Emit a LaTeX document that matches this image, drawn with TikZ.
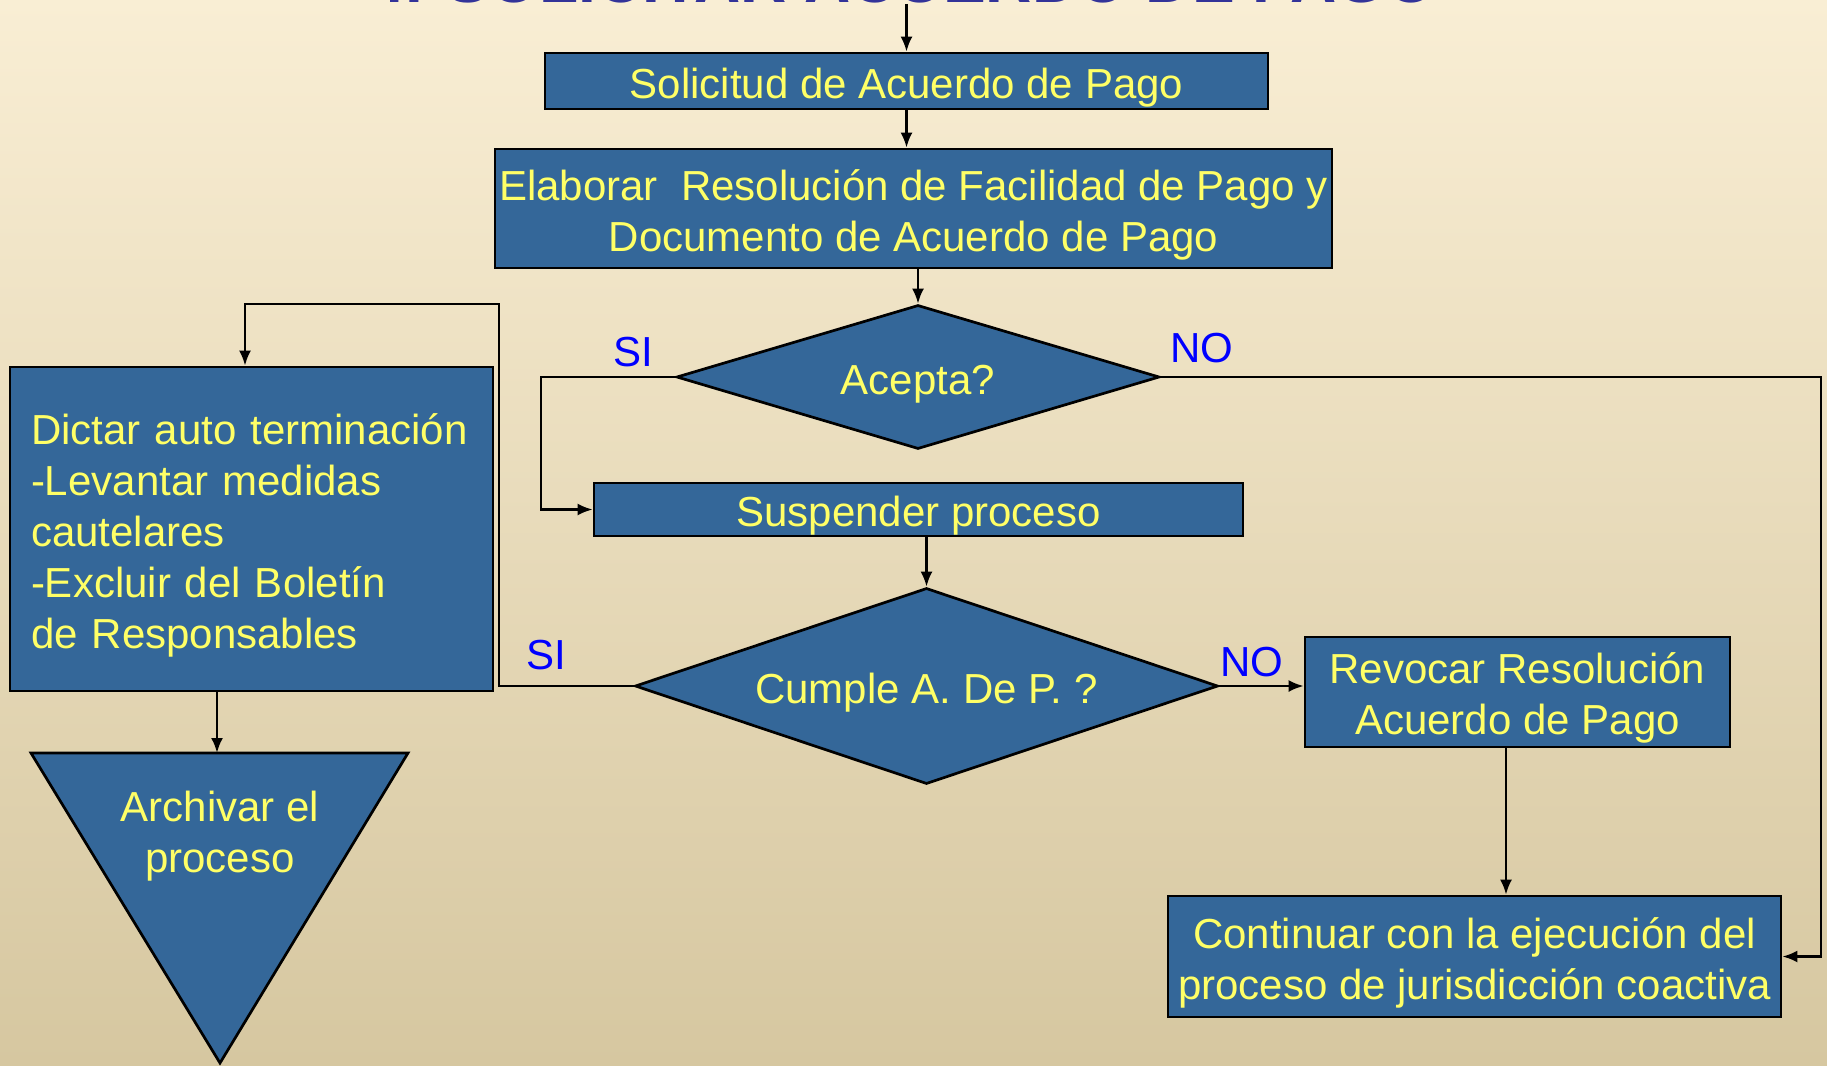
\documentclass[tikz,border=0pt]{standalone}
\usepackage{fontspec}
\setmainfont{Liberation Sans}
\usetikzlibrary{shapes.geometric,arrows.meta}
\definecolor{bgtop}{RGB}{249,238,212}
\definecolor{bgmid}{RGB}{240,232,210}
\definecolor{bgbot}{RGB}{214,199,160}
\definecolor{boxblue}{RGB}{52,103,153}
\definecolor{txtyel}{RGB}{255,255,102}
\definecolor{ttlblue}{RGB}{51,51,153}
\newcommand{\lift}{\rule{0pt}{43pt}}
\tikzset{proc/.style={draw=black, line width=2.7pt, fill=boxblue, text=txtyel, inner sep=0pt, align=center, font=\fontsize{42}{51}\selectfont, execute at begin node={\lift}}}
\tikzset{decis/.style={proc, diamond, aspect=3}}
\tikzset{lbl/.style={text=blue, inner sep=0pt, font=\fontsize{42}{51}\selectfont}}
\tikzset{conn/.style={line width=2.5pt, -{Latex[length=15pt,width=12pt]}}}

\begin{document}
\begin{tikzpicture}[x=1pt,y=-1pt]

\useasboundingbox (0,0) rectangle (1827,1065);
\clip (0,0) rectangle (1827,1065);
\shade[top color=bgtop, middle color=bgmid, bottom color=bgbot] (0,0) rectangle (1827,1065);

\node[anchor=base, text=ttlblue, inner sep=0pt, font=\fontsize{64}{64}\selectfont\bfseries] (ttl) at (903,3) {4. SOLICITAR ACUERDO DE PAGO};

\node[proc, minimum width=723pt, minimum height=56pt] (sol) at (906.5,81) {Solicitud de Acuerdo de Pago};
\node[proc, minimum width=837pt, minimum height=119pt] (ela) at (913.5,208.5) {\lift Elaborar\ \ Resolución de Facilidad de Pago y\\Documento de Acuerdo de Pago};
\node[decis, minimum width=483pt, minimum height=144pt] (acp) at (918,377) {Acepta?};
\node[proc, minimum width=649pt, minimum height=53pt] (sus) at (918.5,509.5) {Suspender proceso};
\node[decis, minimum width=583pt, minimum height=196pt] (cum) at (926.5,686) {Cumple A. De P. ?};
\node[proc, minimum width=425pt, minimum height=110pt] (rev) at (1517.5,692) {\lift Revocar Resolución\\Acuerdo de Pago};
\node[proc, minimum width=613pt, minimum height=121pt] (con) at (1474.5,956.5) {\lift Continuar con la ejecución del\\proceso de jurisdicción coactiva};
\node[proc, minimum height=324pt, text width=441pt, inner xsep=21pt, align=left] (dic) at (251.5,529) {Dictar auto terminación\\-Levantar medidas\\cautelares\\-Excluir del Boletín\\de Responsables};

\coordinate (arcL) at (31,753);
\coordinate (arcR) at (408,753);
\coordinate (arcB) at (220,1063);
\coordinate (arcT) at (217,753);
\draw[line width=2.7pt, fill=boxblue] (arcL) -- (arcR) -- (arcB) -- cycle;
\node[text=txtyel, inner sep=0pt, align=center, font=\fontsize{42}{51}\selectfont] (arc) at (220,836) {Archivar el\\proceso};

\node[lbl] (si1) at (633,352) {SI};
\node[lbl] (no1) at (1202,348) {NO};
\node[lbl] (si2) at (546.5,655.5) {SI};
\node[lbl] (no2) at (1252,662) {NO};

\coordinate (rgt) at (1821,378);
\coordinate (lft) at (499,304);

\draw[conn] (ttl.south -| sol.north) -- (sol.north);
\draw[conn] (sol.south) -- (sol.south |- ela.north);
\draw[conn] (ela.south -| acp.north) -- (acp.north);
\draw[conn] (acp.west) -- ++(-134,0) |- (sus.west);
\draw[conn] (acp.east) -- (acp.east -| rgt) |- (con.east);
\draw[conn] (sus.south -| cum.north) -- (cum.north);
\draw[conn] (cum.east) -- (cum.east -| rev.west);
\draw[conn] (cum.west) -- (cum.west -| lft) -- (lft) -| ([xshift=-6.5pt]dic.north);
\draw[conn] ([xshift=-11.5pt]rev.south) -- ([xshift=-11.5pt]rev.south |- con.north);
\draw[conn] (dic.south -| arcT) -- (arcT);

\end{tikzpicture}
\end{document}
